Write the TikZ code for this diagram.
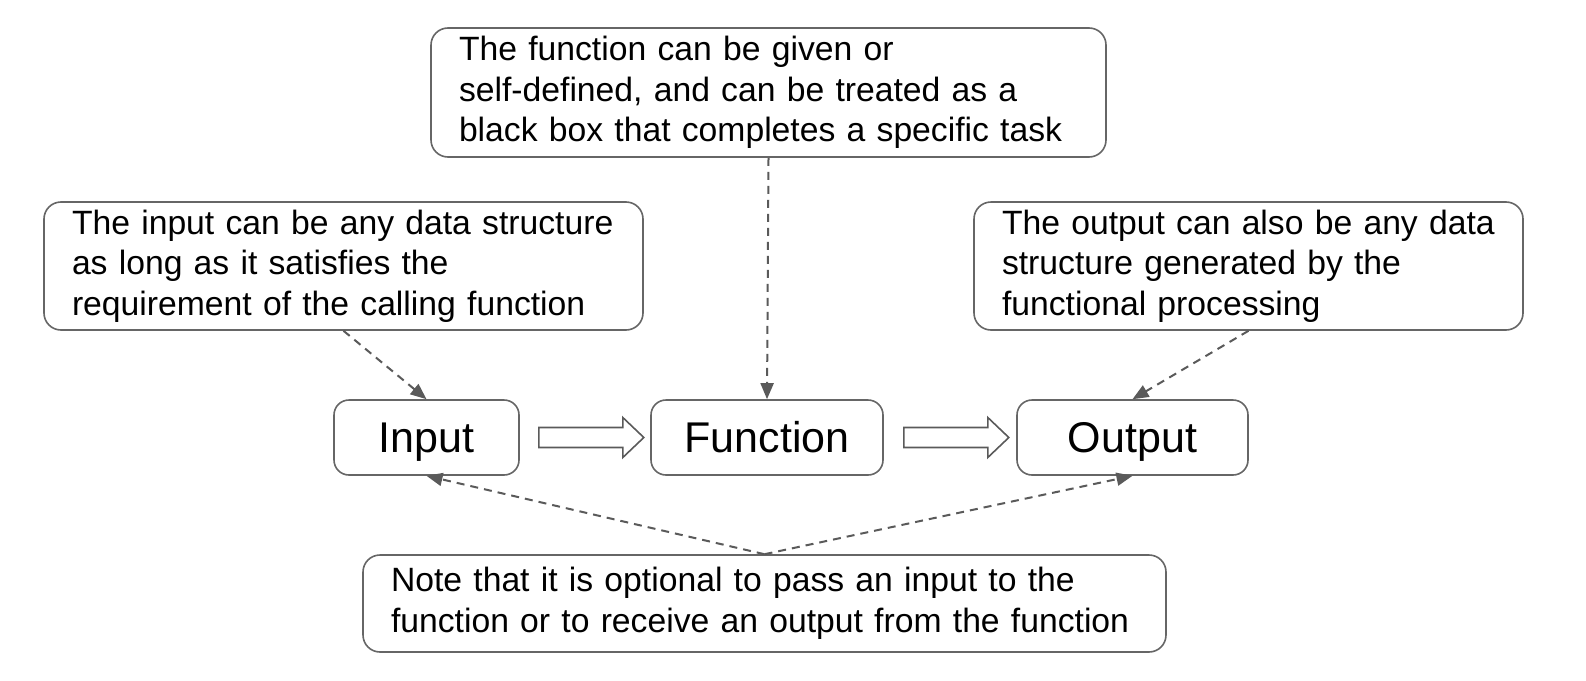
\documentclass[tikz,border=0pt]{standalone}
\usepackage{fontspec}
\setmainfont{Liberation Sans}
\usetikzlibrary{arrows.meta}

\definecolor{boxgray}{HTML}{666666}
\definecolor{linegray}{HTML}{5A5A5A}

\begin{document}
\begin{tikzpicture}[x=1pt,y=-1pt,
    note/.style={draw=boxgray,line width=1.6pt,rounded corners=17pt,inner xsep=28pt,
      align=left,font=\fontsize{33.7}{40.5}\selectfont},
    stage/.style={draw=boxgray,line width=1.6pt,rounded corners=15pt,minimum height=75pt,
      inner sep=0pt,text height=30.8pt,text depth=0pt,font=\fontsize{43}{48}\selectfont},
    hint/.style={draw=linegray,line width=2pt,dash pattern=on 8pt off 6pt,
      -{Triangle[length=16pt,width=13pt]}},
    hollow/.style={draw=linegray,line width=1.6pt,fill=white,line join=miter}]
  \useasboundingbox (0,0) rectangle (1586,680);

  % stages
  \node (in)  at (426.5,437.5)  [stage,minimum width=185pt] {Input};
  \node (fun) at (767,437.5)    [stage,minimum width=232pt] {Function};
  \node (out) at (1132.5,437.5) [stage,minimum width=231pt] {Output};

  % notes
  \node (fnote) at (768.5,92.5) [note,text width=619pt,minimum height=129pt]
    {The function can be given or\\ self-defined, and can be treated as a\\ black box that completes a specific task};
  \node (inote) at (343.5,266) [note,text width=543pt,minimum height=128pt]
    {The input can be any data structure\\ as long as it satisfies the\\ requirement of the calling function};
  \node (onote) at (1248.5,266) [note,text width=493pt,minimum height=128pt]
    {The output can also be any data\\ structure generated by the\\ functional processing};
  \node (nnote) at (764.5,603.5) [note,text width=747pt,minimum height=97pt]
    {Note that it is optional to pass an input to the\\ function or to receive an output from the function};

  % hollow arrows
  \draw[hollow] ([shift={(19,-10)}]in.east) -- ++(84,0) -- ++(0,-10) -- ++(21,20)
    -- ++(-21,20) -- ++(0,-10) -- ++(-84,0) -- cycle;
  \draw[hollow] ([shift={(20,-10)}]fun.east) -- ++(84,0) -- ++(0,-10) -- ++(21,20)
    -- ++(-21,20) -- ++(0,-10) -- ++(-84,0) -- cycle;

  % dashed hints
  \draw[hint] (inote.south) -- (in.north);
  \draw[hint] (fnote.south) -- (fun.north);
  \draw[hint] (onote.south) -- (out.north);
  \draw[hint] (nnote.north) -- (in.south);
  \draw[hint] (nnote.north) -- (out.south);
\end{tikzpicture}
\end{document}
